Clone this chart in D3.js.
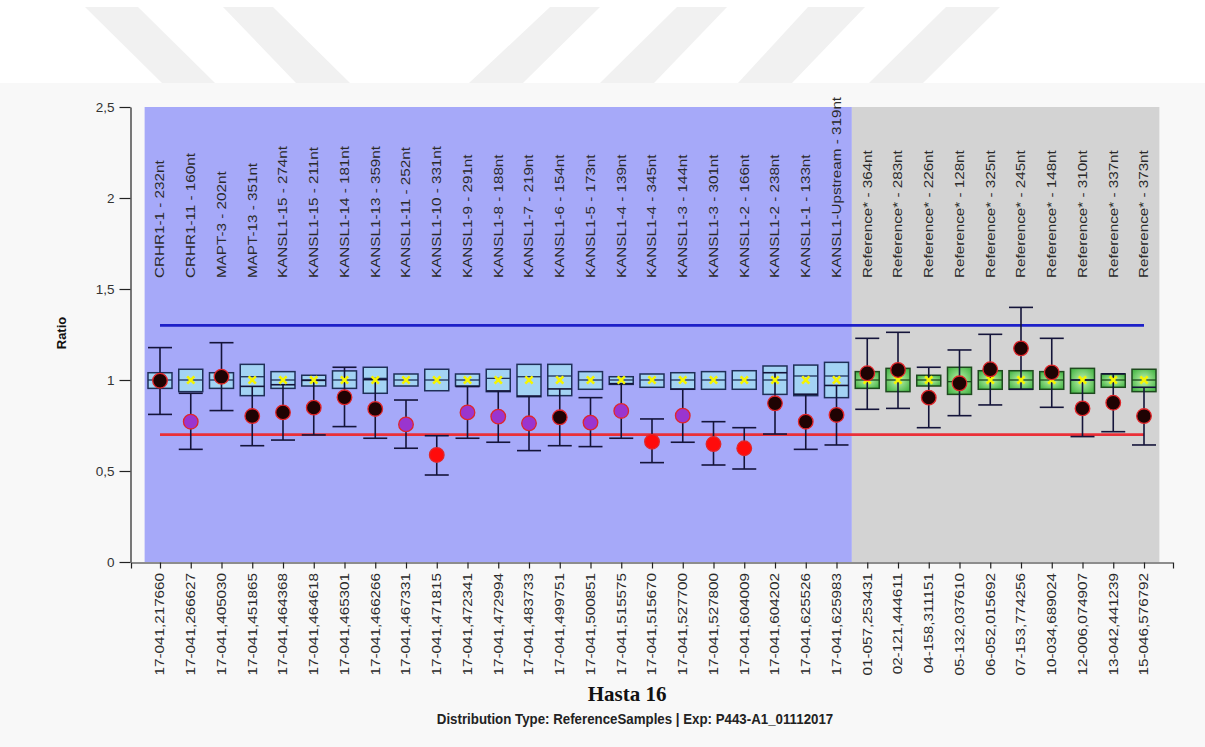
<!DOCTYPE html>
<html>
<head>
<meta charset="utf-8">
<script src="https://cdn.jsdelivr.net/npm/d3@7"></script>
<style>
  html, body { margin: 0; padding: 0; background: #ffffff; }
  svg { display: block; font-family: "Liberation Sans", Arial, sans-serif; }
</style>
</head>
<body>
<svg id="chart" width="1205" height="747"></svg>
<script>
// Probe names printed along the top of the plot
const probeNames = [
  "CRHR1-1 - 232nt", "CRHR1-11 - 160nt", "MAPT-3 - 202nt", "MAPT-13 - 351nt",
  "KANSL1-15 - 274nt", "KANSL1-15 - 211nt", "KANSL1-14 - 181nt", "KANSL1-13 - 359nt",
  "KANSL1-11 - 252nt", "KANSL1-10 - 331nt", "KANSL1-9 - 291nt", "KANSL1-8 - 188nt",
  "KANSL1-7 - 219nt", "KANSL1-6 - 154nt", "KANSL1-5 - 173nt", "KANSL1-4 - 139nt",
  "KANSL1-4 - 345nt", "KANSL1-3 - 144nt", "KANSL1-3 - 301nt", "KANSL1-2 - 166nt",
  "KANSL1-2 - 238nt", "KANSL1-1 - 133nt", "KANSL1-Upstream - 319nt",
  "Reference* - 364nt", "Reference* - 283nt", "Reference* - 226nt", "Reference* - 128nt",
  "Reference* - 325nt", "Reference* - 245nt", "Reference* - 148nt", "Reference* - 310nt",
  "Reference* - 337nt", "Reference* - 373nt"
];

// Chromosomal positions printed under the x axis
const positions = [
  "17-041,217660", "17-041,266627", "17-041,405030", "17-041,451865", "17-041,464368",
  "17-041,464618", "17-041,465301", "17-041,466266", "17-041,467331", "17-041,471815",
  "17-041,472341", "17-041,472994", "17-041,483733", "17-041,499751", "17-041,500851",
  "17-041,515575", "17-041,515670", "17-041,527700", "17-041,527800", "17-041,604009",
  "17-041,604202", "17-041,625526", "17-041,625983",
  "01-057,253431", "02-121,444611", "04-158,311151", "05-132,037610", "06-052,015692",
  "07-153,774256", "10-034,689024", "12-006,074907", "13-042,441239", "15-046,576792"
];

// Probe group: "target" probes vs "reference" probes
const probeGroup = [
  "target","target","target","target","target","target","target","target","target","target",
  "target","target","target","target","target","target","target","target","target","target",
  "target","target","target",
  "reference","reference","reference","reference","reference","reference","reference",
  "reference","reference","reference"
];

// Sample ratio per probe
const sampleRatio = [
  0.996, 0.771, 1.018, 0.802, 0.822, 0.848, 0.905, 0.841, 0.756, 0.588,
  0.822, 0.799, 0.762, 0.795, 0.766, 0.830, 0.661, 0.804, 0.648, 0.625,
  0.872, 0.771, 0.808,
  1.037, 1.055, 0.903, 0.982, 1.059, 1.174, 1.042, 0.844, 0.875, 0.802
];

// Sample confidence interval (low / high)
const ciLow = [
  0.811, 0.619, 0.832, 0.639, 0.670, 0.698, 0.744, 0.680, 0.625, 0.478,
  0.680, 0.658, 0.612, 0.639, 0.634, 0.680, 0.546, 0.658, 0.533, 0.511,
  0.703, 0.619, 0.643,
  0.839, 0.844, 0.738, 0.804, 0.863, 0.949, 0.850, 0.689, 0.716, 0.643
];
const ciHigh = [
  1.178, 0.927, 1.205, 0.965, 0.974, 0.998, 1.070, 1.002, 0.890, 0.694,
  0.964, 0.940, 0.912, 0.951, 0.903, 0.980, 0.786, 0.950, 0.771, 0.738,
  1.040, 0.922, 0.970,
  1.229, 1.262, 1.070, 1.165, 1.251, 1.399, 1.229, 1.000, 1.034, 0.960
];

// Reference sample distribution per probe (box low / median / high, mean)
const refLow = [
  0.954, 0.936, 0.954, 0.914, 0.954, 0.967, 0.954, 0.927, 0.967, 0.941,
  0.967, 0.936, 0.908, 0.914, 0.949, 0.976, 0.960, 0.949, 0.949, 0.949,
  0.921, 0.914, 0.903,
  0.954, 0.936, 0.967, 0.921, 0.949, 0.949, 0.949, 0.927, 0.960, 0.936
];
const refMedian = [
  1.000, 1.000, 1.000, 1.018, 1.000, 1.000, 1.000, 1.009, 1.000, 1.000,
  1.000, 1.009, 1.018, 1.022, 1.000, 1.000, 1.000, 1.000, 1.000, 1.000,
  1.000, 1.022, 1.022,
  1.000, 1.000, 1.000, 0.991, 1.000, 1.000, 1.000, 1.000, 1.000, 1.000
];
const refHigh = [
  1.040, 1.059, 1.040, 1.086, 1.046, 1.026, 1.050, 1.070, 1.033, 1.059,
  1.033, 1.059, 1.086, 1.086, 1.046, 1.018, 1.033, 1.040, 1.046, 1.051,
  1.077, 1.082, 1.097,
  1.046, 1.064, 1.026, 1.070, 1.051, 1.051, 1.046, 1.064, 1.033, 1.059
];
const refMean = [
  1, 1, 1, 1, 1, 1, 1, 1, 1, 1, 1, 1, 1, 1, 1, 1, 1, 1, 1, 1, 1, 1, 1,
  1, 1, 1, 1, 1, 1, 1, 1, 1, 1
];

// Call per probe: normal, borderline, loss
const callStatus = [
  "normal","borderline","normal","normal","normal","normal","normal","normal","borderline","loss",
  "borderline","borderline","borderline","normal","borderline","borderline","loss","borderline","loss","loss",
  "normal","normal","normal",
  "normal","normal","normal","normal","normal","normal","normal","normal","normal","normal"
];

// Thresholds and axis ticks
const upperThreshold = 1.3;
const lowerThreshold = 0.7;
const yTicks = [0, 0.5, 1, 1.5, 2, 2.5];

const titleText = "Hasta 16";
const subtitleText = "Distribution Type: ReferenceSamples | Exp: P443-A1_01112017";
const yLabel = "Ratio";

// ---------------------------------------------------------------
const svg = d3.select("#chart");
const W = 1205, H = 747;
const SANS = "'Liberation Sans', Arial, sans-serif";
const SERIF = "'Liberation Serif', 'Times New Roman', serif";

// page background and faint header stripes
svg.append("rect").attr("width", W).attr("height", H).attr("fill", "#ffffff");
svg.append("rect").attr("x", 0).attr("y", 83).attr("width", W).attr("height", H - 83).attr("fill", "#f8f8f8");
const stripes = [
  [[85,7],[138,7],[215,83],[162,83]],
  [[223,7],[273,7],[350,83],[296,83]],
  [[550,7],[600,7],[523,83],[469,83]],
  [[677,7],[727,7],[654,83],[600,83]],
  [[808,7],[865,7],[792,83],[738,83]],
  [[946,7],[1000,7],[923,83],[869,83]]
];
svg.append("g").selectAll("polygon").data(stripes).join("polygon")
  .attr("points", d => d.map(p => p.join(",")).join(" "))
  .attr("fill", "#f1f1f1");

const idx = d3.range(probeNames.length);
const x = d3.scalePoint().domain(idx).range([131, 1173]).padding(0.943);
const step = x.step();
const y = d3.scaleLinear().domain([0, 2.5]).range([562, 107]);

// plot regions: target probes and reference probes
const lastTarget = probeGroup.lastIndexOf("target");
const xLeft = x(0) - step / 2;
const xSplit = (x(lastTarget) + x(lastTarget + 1)) / 2;
const xRight = x(idx.length - 1) + step / 2;
svg.append("rect").attr("x", xLeft).attr("y", y(2.5)).attr("width", xSplit - xLeft)
  .attr("height", y(0) - y(2.5)).attr("fill", "#a6a9f9");
svg.append("rect").attr("x", xSplit).attr("y", y(2.5)).attr("width", xRight - xSplit)
  .attr("height", y(0) - y(2.5)).attr("fill", "#d3d3d3");

// gradient for reference boxes
const defs = svg.append("defs");
const rg = defs.append("radialGradient").attr("id", "greenBox").attr("cx", "50%").attr("cy", "50%").attr("r", "60%");
rg.append("stop").attr("offset", "0%").attr("stop-color", "#c2f5b0");
rg.append("stop").attr("offset", "100%").attr("stop-color", "#4cb84c");

// threshold lines
const x0 = x(0), x1 = x(idx.length - 1);
svg.append("line").attr("x1", x0).attr("x2", x1).attr("y1", y(upperThreshold)).attr("y2", y(upperThreshold))
  .attr("stroke", "#1d20c8").attr("stroke-width", 2.6);
svg.append("line").attr("x1", x0).attr("x2", x1).attr("y1", y(lowerThreshold)).attr("y2", y(lowerThreshold))
  .attr("stroke", "#ea3038").attr("stroke-width", 2.8);

// reference distribution boxes
const boxW = 24;
const boxes = svg.append("g").selectAll("g").data(idx).join("g");
boxes.append("rect")
  .attr("x", i => x(i) - boxW / 2)
  .attr("y", i => y(refHigh[i]))
  .attr("width", boxW)
  .attr("height", i => y(refLow[i]) - y(refHigh[i]))
  .attr("fill", i => probeGroup[i] === "target" ? "#a3d3f4" : "url(#greenBox)")
  .attr("stroke", i => probeGroup[i] === "target" ? "#1f2f58" : "#1e4a1e")
  .attr("stroke-width", 1.5);
boxes.append("line")
  .attr("x1", i => x(i) - boxW / 2).attr("x2", i => x(i) + boxW / 2)
  .attr("y1", i => y(refMedian[i])).attr("y2", i => y(refMedian[i]))
  .attr("stroke", i => probeGroup[i] === "target" ? "#1f2f58" : "#1e4a1e")
  .attr("stroke-width", 1.3);

// sample confidence intervals
const capW = 24;
const ci = svg.append("g").attr("stroke", "#14143a").attr("stroke-width", 1.6).selectAll("g").data(idx).join("g");
ci.append("line").attr("x1", i => x(i)).attr("x2", i => x(i))
  .attr("y1", i => y(ciLow[i])).attr("y2", i => y(ciHigh[i]));
ci.append("line").attr("x1", i => x(i) - capW / 2).attr("x2", i => x(i) + capW / 2)
  .attr("y1", i => y(ciLow[i])).attr("y2", i => y(ciLow[i]));
ci.append("line").attr("x1", i => x(i) - capW / 2).attr("x2", i => x(i) + capW / 2)
  .attr("y1", i => y(ciHigh[i])).attr("y2", i => y(ciHigh[i]));

// mean markers
svg.append("g").selectAll("path").data(idx).join("path")
  .attr("transform", i => `translate(${x(i)},${y(refMean[i])})`)
  .attr("d", d3.symbol(d3.symbolX).size(36))
  .attr("fill", "none").attr("stroke", "#f5f500").attr("stroke-width", 2.6);

// sample ratio dots
const dotFill = { normal: "#1e0303", borderline: "#9a35cf", loss: "#ff0b0b" };
svg.append("g").selectAll("circle").data(idx).join("circle")
  .attr("cx", i => x(i)).attr("cy", i => y(sampleRatio[i])).attr("r", 7.3)
  .attr("fill", i => dotFill[callStatus[i]])
  .attr("stroke", "#e0262a").attr("stroke-width", 1.3);

// probe names along the top
svg.append("g").selectAll("text").data(idx).join("text")
  .attr("transform", i => `translate(${x(i) + 4.3},278) scale(1,1.27) rotate(-90)`)
  .style("font-family", SANS).style("font-size", "12px").attr("fill", "#2a2a2a")
  .text(i => probeNames[i]);

// y axis
const yAxis = d3.axisLeft(y).tickValues(yTicks)
  .tickFormat(d => String(d).replace(".", ","))
  .tickSize(11).tickSizeOuter(0);
const gy = svg.append("g").attr("transform", "translate(130.5,0)").call(yAxis);
gy.selectAll("path, line").attr("stroke", "#222").attr("stroke-width", 1.2);
gy.selectAll("text").style("font-family", SANS).style("font-size", "13.5px").attr("fill", "#333").attr("dx", -2);

// x axis
const xAxis = d3.axisBottom(x).tickSize(6).tickSizeOuter(6).tickFormat("");
const gx = svg.append("g").attr("transform", "translate(0,562.5)").call(xAxis);
gx.selectAll("path, line").attr("stroke", "#222").attr("stroke-width", 1.2);

// sample positions under the axis
svg.append("g").selectAll("text").data(idx).join("text")
  .attr("transform", i => `translate(${x(i) + 4.3},573) scale(1,1.27) rotate(-90)`)
  .attr("text-anchor", "end")
  .style("font-family", SANS).style("font-size", "12px").attr("fill", "#2a2a2a")
  .text(i => positions[i]);

// axis title
svg.append("text")
  .attr("transform", "translate(66,333) rotate(-90)")
  .attr("text-anchor", "middle")
  .style("font-family", SANS).style("font-size", "13px").style("font-weight", "bold").attr("fill", "#111")
  .text(yLabel);

// titles
svg.append("text")
  .attr("x", 627).attr("y", 701).attr("text-anchor", "middle")
  .style("font-family", SERIF).style("font-size", "21px").style("font-weight", "bold").attr("fill", "#111")
  .text(titleText);
svg.append("text")
  .attr("transform", "translate(635,724) scale(1,1.12)")
  .attr("text-anchor", "middle")
  .style("font-family", SANS).style("font-size", "13.3px").style("font-weight", "bold").attr("fill", "#222")
  .text(subtitleText);
</script>
</body>
</html>
